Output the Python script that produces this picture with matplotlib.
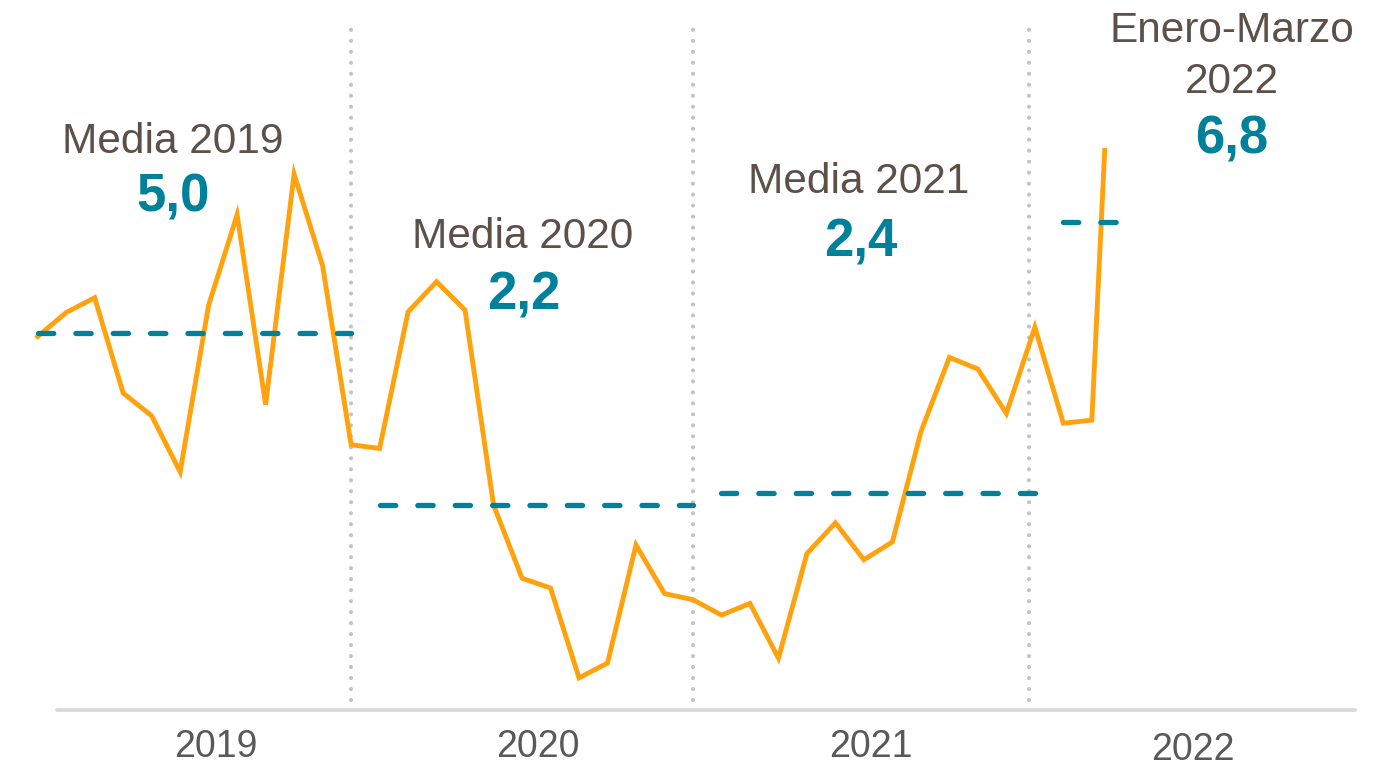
import matplotlib
matplotlib.use("Agg")
import matplotlib.pyplot as plt
from matplotlib.patches import Rectangle

plt.rcParams['font.family'] = ['Liberation Sans', 'DejaVu Sans']
plt.rcParams['lines.scale_dashes'] = False

# monthly values, Jan 2019 - Mar 2022
val_2019 = [4.94, 5.33, 5.57, 4.02, 3.65, 2.74, 5.45, 6.92, 3.83, 7.58, 6.09, 3.18]
val_2020 = [3.12, 5.34, 5.83, 5.37, 2.20, 1.01, 0.85, -0.61, -0.37, 1.55, 0.76, 0.66]
val_2021 = [0.41, 0.60, -0.29, 1.41, 1.91, 1.31, 1.60, 3.39, 4.60, 4.41, 3.69, 5.09]
val_2022 = [3.53, 3.58, 13.3]

years = ['2019', '2020', '2021', '2022']
means = [5.0, 2.2, 2.4, 6.8]
mean_labels = ['5,0', '2,2', '2,4', '6,8']
mean_titles = ['Media 2019', 'Media 2020', 'Media 2021', 'Enero-Marzo\n2022']

ORANGE = '#FFA20E'
TEAL = '#00819B'
BROWN = '#5C5049'
GREY_TXT = '#595959'

W, H = 1400, 768
fig = plt.figure(figsize=(W / 100, H / 100), dpi=100)
ax = fig.add_axes([0, 0, 1, 1])
ax.set_axis_off()

# pixel <-> data mapping of the original layout
x0, dx = 37.7, 28.49
y0, dy = 640.3, 61.5
ax.set_xlim(-x0 / dx, (W - x0) / dx)
ax.set_ylim((y0 - H) / dy, y0 / dy)


def px_y(p):
    return (y0 - p) / dy


series = [val_2019, val_2020, val_2021, val_2022]
values = [v for s in series for v in s]
months = list(range(len(values)))

# plot area is capped at 8 (March 2022 runs off the top)
clip = Rectangle((-5, -5), 60, 13.0, transform=ax.transData, visible=False)
ax.add_patch(clip)
line, = ax.plot(months, values, color=ORANGE, lw=3.5, solid_joinstyle='miter', zorder=3)
line.set_clip_path(clip)

# yearly means as dashed segments
start = 0
for s, m in zip(series, means):
    ax.hlines(m, start, start + len(s) - 1, color=TEAL, lw=3.8,
              linestyles=(0, (11.0, 15.9)), capstyle='round', zorder=4)
    start += len(s)

# year separators
for xs in [11, 23, 34.78]:
    ax.vlines(xs, px_y(700), px_y(28), color='#C3C3C3', lw=3.0,
              linestyles=(0, (0.01, 7.9)), capstyle='round', zorder=1)

# baseline
ax.axhline(px_y(710), xmin=57 / W, xmax=1355 / W, color='#D9D9D9', lw=2.8,
           solid_capstyle='round', zorder=2)

# year labels
year_pos = [(216, 756.7), (538.3, 756.7), (870.8, 756.7), (1193.3, 760)]
for lab, (px, py) in zip(years, year_pos):
    fig.text(px / W, 1 - py / H, lab, ha='center', va='baseline',
             fontsize=27, color=GREY_TXT)

# mean annotations
title_pos = [(172.5, 153.3), (522.5, 248.3), (859, 193.3), (1232, 41.7)]
num_pos = [(173.3, 211.7), (524, 309), (861, 256.7), (1231.3, 153.3)]
for t, n, (tx, ty), (nx, ny) in zip(mean_titles, mean_labels, title_pos, num_pos):
    for i, part in enumerate(t.split('\n')):
        fig.text(tx / W, 1 - (ty + i * 51.6) / H, part, ha='center', va='baseline',
                 fontsize=30.5, color=BROWN)
    fig.text(nx / W, 1 - ny / H, n, ha='center', va='baseline',
             fontsize=38, fontweight='bold', color=TEAL)

fig.savefig('out.png', dpi=100)
